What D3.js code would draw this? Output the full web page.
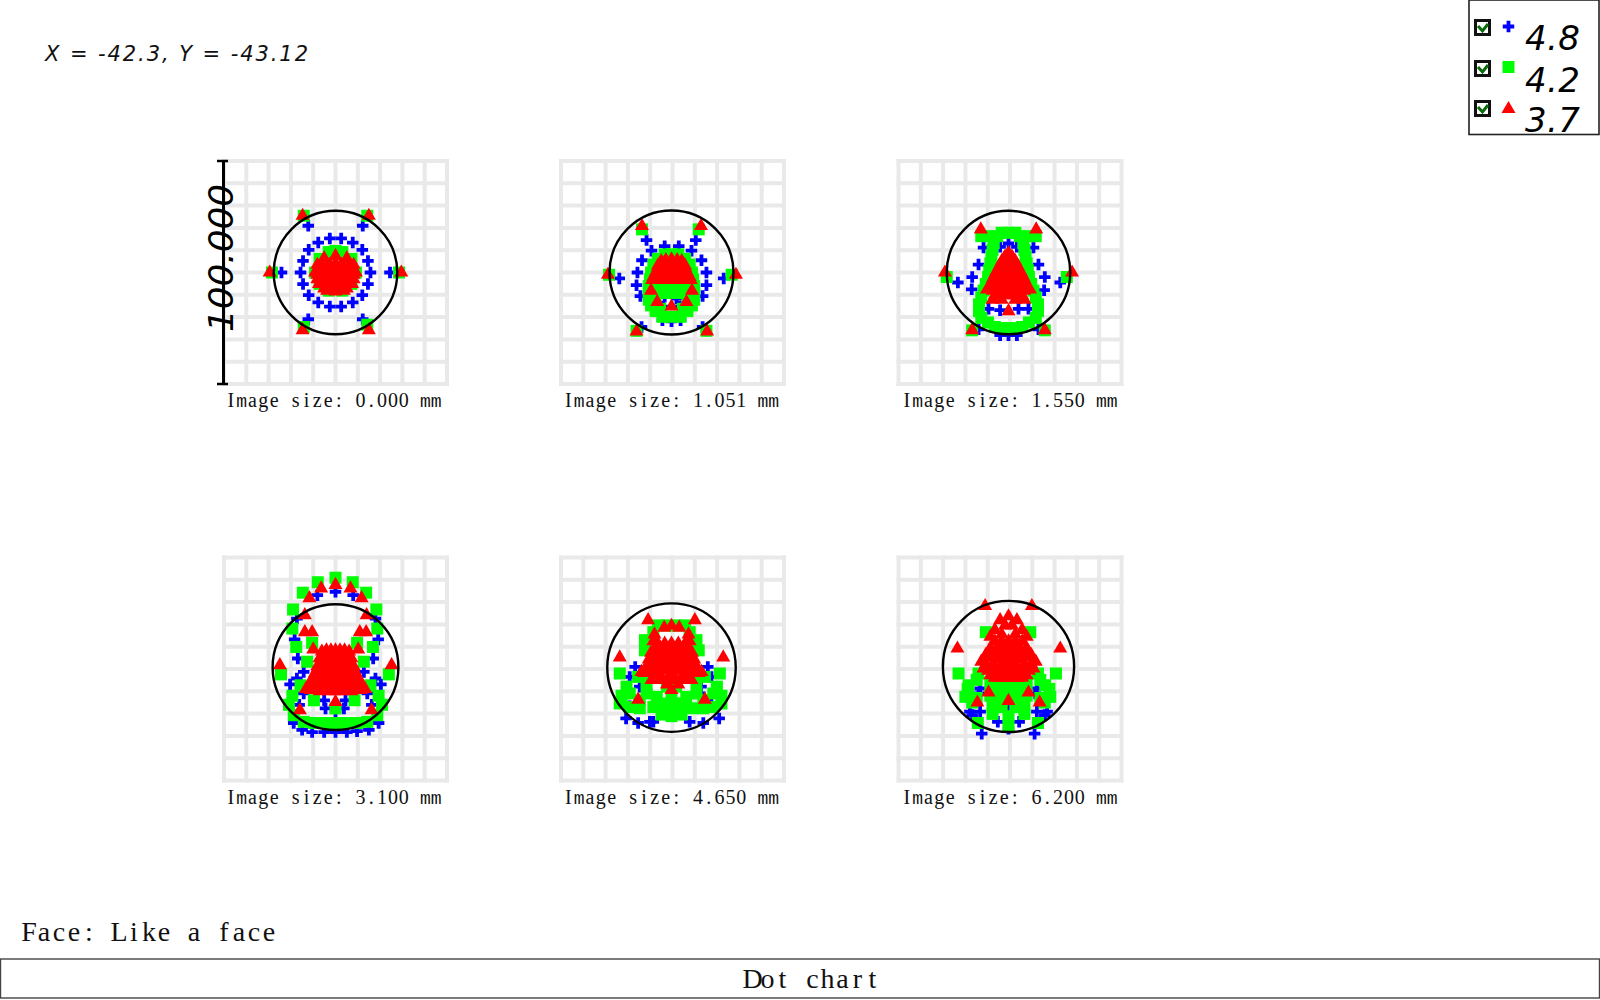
<!DOCTYPE html>
<html><head><meta charset="utf-8">
<script src="https://cdn.jsdelivr.net/npm/d3@7"></script>
<style>html,body{margin:0;padding:0;background:#fff}svg{display:block}</style>
</head><body><svg id="c" width="1600" height="1000"></svg>
<script>
const imageSizes=["0.000","1.051","1.550","3.100","4.650","6.200"];
const airyRadius=[27.2,27.3,27.2,27.7,28.3,28.9];
const airyCenterY=[0,0,0,0.6,0.4,0.9];
const legendLabels=["4.8","4.2","3.7"];
const blue0=[[-12,20.6],[12,20.6],[-23.8,0],[24,0],[-12,-20.6],[12,-20.6],[-2.5,15],[2.5,15],[-7.6,13.2],[7.6,13.2],[-11.8,10],[11.8,10],[-14.3,5.1],[14.3,5.1],[-15.4,0],[15.4,0],[-14.3,-5.1],[14.3,-5.1],[-11.8,-10],[11.8,-10],[-7.6,-13.2],[7.6,-13.2],[-2.5,-15],[2.5,-15]];
const green0=[[-14,25],[14,25],[-28,0],[28,0],[-14,-24],[14,-23],[-9,0],[9,0],[-7,6],[7,6],[-3,9],[3,9],[0,9.5],[-7,-5],[7,-5],[-3,-8],[3,-8]];
const red0=[[-14.5,25],[14.7,25],[-29,0],[29,0],[-14.5,-25.4],[14.7,-25.4],[0,7.3],[-5,6.3],[5,6.3],[-8,3.4],[8,3.4],[-9,0],[9,0],[-7.3,-5],[7.3,-5],[-3.7,-8],[3.7,-8],[0,-8.4],[-4,2],[4,2],[0,0],[0,4],[-4,-3],[4,-3],[0,-4],[-6,-1],[6,-1],
[-2.5,3.5],[2.5,3.5],[-6,3],[-3,3],[3,3],[6,3],[-7,1],[-3.5,1],[3.5,1],[7,1],[-8,-1],[-4,-1],[-2,-1],[2,-1],[4,-1],[8,-1],[-8,-3],[-5.5,-3],[-2.5,-3],[0,-3],[2.5,-3],[5.5,-3],[8,-3],[-5,-5],[-2.5,-5],[0,-5],[2.5,-5],[5,-5],[-5,-7],[-2,-7],[0,-7],[2,-7],[5,-7]];
const blue1=[[-11,14.3],[10.7,14.3],[-8.8,9.6],[8.8,9.6],[-3,11.6],[3.2,11.6],[-13,5.4],[13.2,5.4],[-15,0],[15.4,0],[-15.4,-5.6],[15.4,-5.6],[-23,-2.6],[23,-2.6],[-13.7,-10.4],[13.7,-10.4],[-3,-10.7],[2.2,-11.5],[-3.7,-15],[3.7,-15],[0,-21.5],[-4,-21],[4,-21],[-13.2,-24],[13.7,-24]];
const green1=[[-13,19],[12,19],[-27.5,-1],[26.5,-1],[-15.4,-25.7],[15.4,-25.7],[0,8],[-3,8],[3,8],[-6,6],[6,6],[-8,3.5],[8,3.5],[-9,0],[9,0],[-9.5,-3],[9.5,-3],[-10,-6],[10,-6],[-10,-9],[10,-9],[-10,-12],[10,-12],[-9,-14.5],[9,-14.5],[-7,-17],[7,-17],[-4,-19.5],[4,-19.5],[0,-19.5],[-6,-9],[6,-9],[-3,-9],[3,-9],[0,-9],[-7,-13],[7,-13],[-5,-16],[5,-16],[-6,-6],[-3,-6],[0,-6],[3,-6],[6,-6]];
const red1=[[-13,20.5],[13,20.5],[-28,-1],[28.4,-1],[-15.4,-26],[15.7,-26],[-9,-8],[9,-8],[-6.3,-13],[6.6,-13],[0,-15],[0,5.8],[-2.5,5.5],[2.5,5.5],[-4.5,5],[4.5,5],[-6,3],[6,3],[-7,0],[7,0],[-8.5,-3.3],[8.5,-3.3],[-5,-3],[5,-3],[0,-3],[-3,-1],[3,-1],[0,2],[-4,2],[4,2],
[-5,4],[-2.5,4],[0,4],[2.5,4],[5,4],[-6,2],[-2,2],[2,2],[6,2],[-4,0],[-1.5,0],[1.5,0],[4,0],[-8,-2],[-5,-2],[-2,-2],[0,-2],[2,-2],[5,-2],[8,-2],[-6.5,-3.3],[-3,-3.3],[-1,-3.3],[1,-3.3],[3,-3.3],[6.5,-3.3]];
const blue2=[[-11,11],[11,11],[-13.2,3.5],[13.2,3.5],[-16,-2],[16,-2],[-22.3,-4.4],[22.8,-4.4],[-16.2,-7.4],[15.7,-7.8],[0,12.8],[-3.7,11.3],[3.7,11.3],[-3.7,-27.6],[0,-27.6],[3.7,-27.6],[-8.8,-16],[-3.7,-16.6],[4.4,-16],[8.8,-16],[-13.2,-25],[13.2,-25]];
const green2=[[-12,16],[-9,16],[12,16],[9,16],[-5,16],[5,16],[-3,17.5],[0,17.5],[3,17.5],[-6.5,13],[6.5,13],[-7,10],[7,10],[-7.5,7],[7.5,7],[-8,4],[8,4],[-8.5,1],[8.5,1],[-9,-2],[9,-2],[-10,-5],[10,-5],[-11,-8],[11,-8],[-12,-11],[12,-11],[-13,-14],[13,-14],[-13,-17],[13,-17],[-12,-20],[12,-20],[-9,-22],[9,-22],[-6,-24],[6,-24],[-3,-24.5],[3,-24.5],[0,-24.5],[-16,-25.5],[16,-25.5],[-27.2,-2],[25.7,-2]];
const red2=[[-12.2,19],[12.2,19],[-28,0],[28,0],[-16,-25.4],[16,-25.4],[0,8.5],[-1.5,7],[1.5,7],[-3,5],[3,5],[-4,3],[4,3],[-5,1],[5,1],[-6,-1],[6,-1],[-7,-3],[7,-3],[0,4],[0,0],[-3,0],[3,0],[0,-4],[-3.5,-4],[3.5,-4],[-9.5,-7.5],[9.5,-7.5],[-7,-12],[7,-12],[0,-17],[-3,-9],[3,-9],[0,-9],[-4.5,-8],[4.5,-8],[-7,-6],[7,-6],[-3,-12],[3,-12],
[-2,6],[0,6],[2,6],[-3,4],[-1,4],[1,4],[3,4],[-4,2],[-2,2],[0,2],[2,2],[4,2],[-5.5,0],[-1.5,0],[1.5,0],[5.5,0],[-6.5,-2],[-4,-2],[-2,-2],[0,-2],[2,-2],[4,-2],[6.5,-2],[-7,-4],[-5,-4],[-2,-4],[2,-4],[5,-4],[7,-4],[-8,-6],[-5,-6],[-2.5,-6],[0,-6],[2.5,-6],[5,-6],[8,-6],[-7,-8],[-2,-8],[2,-8],[7,-8],[-6,-10],[-4,-10],[-1.5,-10],[1.5,-10],[4,-10],[6,-10]];
const blue3=[[-8,32.3],[0,33.8],[7.8,32.3],[-17,22],[17.6,22],[-18,12.8],[18.8,12.8],[-16.6,4.4],[16.6,4.4],[-14,-1.5],[12.5,-1.5],[-17,-4.4],[17.6,-4.4],[-20,-7],[20,-7],[-14,-11],[14,-11],[-5,-14],[-4.4,-17.6],[0,-19],[4.4,-14],[3.7,-17.6],[-16,-16],[16,-16],[19,-24],[-18.4,-24],[-14.7,-27],[-10.3,-28],[-5,-28],[0,-28],[5,-28],[9.5,-27.6],[14.7,-27]];
const green3=[[0,40],[-7.8,38],[7.6,38],[-14.4,33.4],[13.5,33.4],[-18.7,26],[18,26],[-19,17.6],[18.4,17.6],[-17.3,9.5],[16.5,9.5],[-10.3,11.3],[9.5,11.3],[-12.5,3],[12.5,3],[-24,-2.6],[23.5,-2.6],[-15.4,-7.4],[15.4,-7.4],[-19,-12],[19,-12],[-20.5,-16],[20.5,-16],[-9.5,-14],[8.4,-14],[0,-17.6],[-18.4,-20.6],[18.4,-20.6],[-14,-23.5],[-9.5,-24],[-4.4,-24],[0,-24],[5,-24],[9.5,-24],[14,-23.5]];
const red3=[[0,36.8],[-6.3,35.3],[6.6,35.3],[-11.5,31],[11.5,31],[-13.5,23.5],[13.7,23.5],[-13.5,16],[-10.3,16],[10.7,16],[13.5,16],[-9.8,8.4],[10,8.4],[-24.5,1.5],[24.7,1.5],[0,-14.7],[-15.7,-18.4],[15.9,-18.4],[0,8],[-2,8],[2,8],[-4,8],[4,8],[-6,7.5],[6,7.5],[-7,4.5],[7,4.5],[-8,1],[8,1],[-9,-3],[9,-3],[-11,-9.5],[11,-9.5],[-13,-9],[13,-9],[0,4],[-3,4],[3,4],[0,0],[-4,0],[4,0],[0,-4],[-4,-4],[4,-4],[-7,-7],[7,-7],[-3,-10],[3,-10],[0,-10],[-7,-10],[7,-10],
[-5,6],[-3,6],[-1,6],[1,6],[3,6],[5,6],[-6,4],[-5,4],[-1.5,4],[1.5,4],[5,4],[6,4],[-7,2],[-5,2],[-2,2],[2,2],[5,2],[7,2],[-8,0],[-6,0],[-2,0],[2,0],[6,0],[8,0],[-9,-2],[-6.5,-2],[-4,-2],[-2,-2],[0,-2],[2,-2],[4,-2],[6.5,-2],[9,-2],[-10,-4],[-7,-4],[-2,-4],[2,-4],[7,-4],[10,-4],[-11,-6],[-9,-6],[-5,-6],[-2,-6],[0,-6],[2,-6],[5,-6],[9,-6],[11,-6],[-9,-8],[-5,-8],[-1,-8],[1,-8],[5,-8],[9,-8]];
const blue4=[[-16,0.7],[16,0.7],[-18.4,-3.7],[17.6,-3.7],[-14,-8],[13,-8],[-18.4,-16.6],[17.6,-16],[-20,-22],[-14.7,-24],[-8,-23.5],[8,-23.5],[14,-24],[21,-22],[-9.5,-23.5],[-11,-9.5],[12.5,-11]];
const green4=[[-6,19],[-2,19],[2,19],[6,19],[-11.7,12.5],[11,12.5],[-11.7,8],[12,8],[-8,16],[8,16],[-22.8,-2.2],[21.3,-2.2],[-19.8,-8],[20,-8],[-14.7,-3.7],[14.7,-3.7],[-22.8,-15.4],[22,-15.4],[-18.4,-17],[18.4,-17],[-14,-17.5],[-8,-17],[-3.6,-15.4],[0.7,-15.4],[5,-15.4],[9.5,-17.5],[14,-17.5],[0,-21],[-4.4,-20.3],[4.4,-20.3],[0,-18.4],[-6.5,-12.5],[0,-12.5],[6.5,-12.5],[2,-8],[-2,-8],[-11,-11],[11,-11],[-18.4,-11],[18.4,-11],[-11,-6],[11,-6],[-22,-12],[22,-12],[-14,-14],[14,-14]];
const red4=[[-10.3,21.3],[10.3,21.3],[-22.8,4.9],[22.8,4.9],[-14.7,-13.7],[14.7,-13.7],[0,18.8],[-3.2,18],[3.4,18],[-7.5,15],[7.5,15],[-8,12],[8,12],[0,11],[-3,11],[3,11],[-6,11],[6,11],[-9,7],[9,7],[-10,4],[10,4],[-11,1],[11,1],[-12,-2],[12,-2],[0,6],[-5,6],[5,6],[0,2],[-5,2],[5,2],[0,-3],[-5,-3],[5,-3],[-8,-2],[8,-2],[-13.2,-1.5],[13.2,-1.5],[-8.8,-5],[8.8,-5],[-2,-7],[3,-7],[0,-9.5],
[-7,9],[-5,9],[-3,9],[-1,9],[1,9],[3,9],[5,9],[7,9],[-6,7],[-3,7],[-1,7],[1,7],[3,7],[6,7],[-7.5,4],[-2.5,4],[2.5,4],[7.5,4],[-9,2],[-7,2],[-2.5,2],[2.5,2],[7,2],[9,2],[-8,0],[-5,0],[-2.5,0],[0,0],[2.5,0],[5,0],[8,0],[-10,-1],[-3,-1],[3,-1],[10,-1],[-5,-5],[-2,-5],[0,-5],[2,-5],[5,-5]];
const blue5=[[-11.8,-28.7],[11.5,-28.7],[-17,-19],[-12.5,-19],[17,-19],[12.5,-19],[-12.5,-8.8],[12.5,-8.8],[-13.2,-11],[11.8,-11],[-16,-20.5],[16,-20.5],[-4.7,-23.5],[4.7,-23.5],[0,-26.5],[0,-17]];
const green5=[[-10,16],[9.6,16],[-22,-2.2],[20.9,-2.2],[-13.2,-2.2],[13,-2.2],[-17.6,-7.4],[16.2,-7.4],[-19,-12.5],[18.4,-12.5],[-8,-7],[-4,-7],[0,-7],[4,-7],[8,-7],[-8,-12],[-4,-12],[0,-12],[4,-12],[8,-12],[-7,-17],[-3,-17],[3,-17],[7,-17],[-7,-20],[7,-20],[0,-21],[0,-25],[-13.5,-24],[13,-24],[-14,-5],[14,-5],[-14,-13],[14,-13],[-18,-9],[18,-9],[-16,-15],[16,-15]];
const red5=[[-10.3,27.5],[10.3,27.5],[-22.5,8.8],[22.8,8.8],[-8,-3],[8,-3],[-8.8,-10.6],[8.8,-10.6],[-13.7,-15],[13.7,-15],[0,-14.3],[0,23],[-3.7,21.3],[3.7,21.3],[-6,17],[6,17],[-8,14],[8,14],[0,12],[-3,12],[3,12],[-6,12],[6,12],[-5,9],[5,9],[-8,9],[8,9],[-10,6],[10,6],[-12,3],[12,3],[-11,0],[11,0],[0,8],[0,4],[-5,4],[5,4],[0,0],[-6,0],[6,0],[0,-3],[-4,-4],[4,-4],[-6,-3],[6,-3],
[-1.5,19],[1.5,19],[-3,15],[3,15],[-3,10],[0,10],[3,10],[-7,7],[-3,7],[0,7],[3,7],[7,7],[-8,5],[-2.5,5],[2.5,5],[8,5],[-10,2],[-7,2],[-3,2],[0,2],[3,2],[7,2],[10,2],[-9,-1],[-6,-1],[-3,-1],[0,-1],[3,-1],[6,-1],[9,-1],[-6,-4],[-2,-4],[0,-4],[2,-4],[6,-4]];
const blueSeries=[blue0,blue1,blue2,blue3,blue4,blue5];
const greenSeries=[green0,green1,green2,green3,green4,green5];
const redSeries=[red0,red1,red2,red3,red4,red5];

const svg=d3.select("#c");
const W=227,half=W/2;
const panelX=[335.5,671.5,1008.5,335.5,671.5,1008.5];
const panelY=[272.5,272.5,272.5,668.5,668.5,668.5];
const gridX=[335.5,672.5,1010,335.5,672.5,1010];
const gridY=[272.5,272.5,272.5,669,669,669];
const captionX=[333.5,671,1009.5,333.5,671,1009.5];
const BLUE="#0000ff",GREEN="#00ff00",RED="#ff0000";
const plus={draw(ctx,size){const a=Math.sqrt(size)/2,t=1.9;
  ctx.moveTo(-a,-t);ctx.lineTo(-t,-t);ctx.lineTo(-t,-a);ctx.lineTo(t,-a);ctx.lineTo(t,-t);ctx.lineTo(a,-t);
  ctx.lineTo(a,t);ctx.lineTo(t,t);ctx.lineTo(t,a);ctx.lineTo(-t,a);ctx.lineTo(-t,t);ctx.lineTo(-a,t);ctx.closePath();}};
const symPlus=d3.symbol().type(plus).size(132)();
const symSq=d3.symbol().type(d3.symbolSquare).size(144)();
const symTri=d3.symbol().type(d3.symbolTriangle).size(85)();
const serif="'Liberation Serif',serif",mono="'Liberation Mono',monospace";
// Real text, each glyph centred in a fixed-width cell; wide "m" comes from the mono face so it fits its cell
function cellText(sel,cx,y,str,cell,size){
  const n=str.length,x0=cx-n*cell/2+cell/2;
  const t=sel.append("text").attr("y",y).attr("text-anchor","middle").attr("font-family",serif).attr("font-size",size).attr("fill","#111").style("white-space","pre");
  Array.from(str).forEach((c,k)=>{
    const s=t.append("tspan").attr("x",x0+k*cell).text(c);
    if(c==="m") s.attr("font-family",mono).attr("font-size",size*0.9);
  });
  return t;
}

imageSizes.forEach((sz,i)=>{
  const x=d3.scaleLinear().domain([-50,50]).range([-half,half]);
  const y=d3.scaleLinear().domain([-50,50]).range([half,-half]);
  const gridScale=d3.scaleLinear().domain([-50,50]).range([-half+2,half-2]);
  const gg=svg.append("g").attr("transform",`translate(${gridX[i]},${gridY[i]})`);
  const ticks=d3.range(-50,51,10);
  gg.selectAll("line.v").data(ticks).join("line").attr("class","v").attr("x1",d=>gridScale(d)).attr("x2",d=>gridScale(d)).attr("y1",-half).attr("y2",half).attr("stroke","#e9e9e9").attr("stroke-width",4);
  gg.selectAll("line.h").data(ticks).join("line").attr("class","h").attr("y1",d=>gridScale(d)).attr("y2",d=>gridScale(d)).attr("x1",-half).attr("x2",half).attr("stroke","#e9e9e9").attr("stroke-width",4);
  cellText(svg,captionX[i],gridY[i]+134.5,`Image size: ${sz} mm`,10.8,20);
  const g=svg.append("g").attr("transform",`translate(${panelX[i]},${panelY[i]})`);
  const draw=(data,sym,col)=>g.append("g").selectAll("path").data(data).join("path").attr("d",sym).attr("fill",col).attr("transform",d=>`translate(${x(d[0])},${y(d[1])})`);
  draw(blueSeries[i],symPlus,BLUE);
  draw(greenSeries[i],symSq,GREEN);
  draw(redSeries[i],symTri,RED);
  g.append("circle").attr("cx",x(0)).attr("cy",y(airyCenterY[i])).attr("r",x(airyRadius[i])-x(0)).attr("fill","none").attr("stroke","#000").attr("stroke-width",2.4);
});

// y scale bar
const ya=d3.scaleLinear().domain([0,100]).range([383.5,160.5]);
svg.append("g").attr("transform","translate(223,0)").call(d3.axisLeft(ya).tickValues([0,100]).tickSize(0).tickFormat(""))
  .call(g=>g.select(".domain").attr("stroke","#000").attr("stroke-width",3))
  .call(g=>g.selectAll("line").attr("x1",-6).attr("x2",5).attr("stroke","#000").attr("stroke-width",2.5).attr("y1",0).attr("y2",0).style("opacity",1));
const hand="'DejaVu Sans ExtraLight','DejaVu Sans',sans-serif";
svg.append("text").attr("transform","translate(233,332) rotate(-90)").attr("font-family",hand).attr("font-style","italic").attr("font-size",33).attr("textLength",148).attr("lengthAdjust","spacingAndGlyphs").attr("fill","#000").text("100.000");
svg.append("text").attr("x",45).attr("y",61).attr("font-family",hand).attr("font-style","italic").attr("font-size",21).attr("textLength",263).attr("fill","#111").text("X = -42.3, Y = -43.12");

// legend
const lg=svg.append("g");
lg.append("rect").attr("x",1469).attr("y",0).attr("width",130).attr("height",134.5).attr("fill","#fff").attr("stroke","#222").attr("stroke-width",1.6);
const boxY=[19,60,100],markY=[26.5,67,109],textY=[50,92,132],syms=[symPlus,symSq,symTri],cols=[BLUE,GREEN,RED];
legendLabels.forEach((t,i)=>{
  lg.append("rect").attr("x",1475.5).attr("y",boxY[i]+1.5).attr("width",14).attr("height",14).attr("fill","#fff").attr("stroke","#111").attr("stroke-width",3);
  lg.append("path").attr("d",`M1478,${boxY[i]+7} L1482.5,${boxY[i]+12} L1488,${boxY[i]+5}`).attr("fill","none").attr("stroke","#0b6b0b").attr("stroke-width",3);
  lg.append("path").attr("d",syms[i]).attr("fill",cols[i]).attr("transform",`translate(1508.5,${markY[i]})`);
  lg.append("text").attr("x",1525).attr("y",textY[i]).attr("font-family",hand).attr("font-style","italic").attr("font-size",34).attr("textLength",55).attr("fill","#000").text(t);
});

// footer
cellText(svg,149,941,"Face: Like a face",15,28);
svg.append("rect").attr("x",0.5).attr("y",959).attr("width",1599).attr("height",39).attr("fill","#fff").attr("stroke","#444").attr("stroke-width",1.4);
cellText(svg,812.5,988,"Dot chart",15,28);
</script></body></html>
